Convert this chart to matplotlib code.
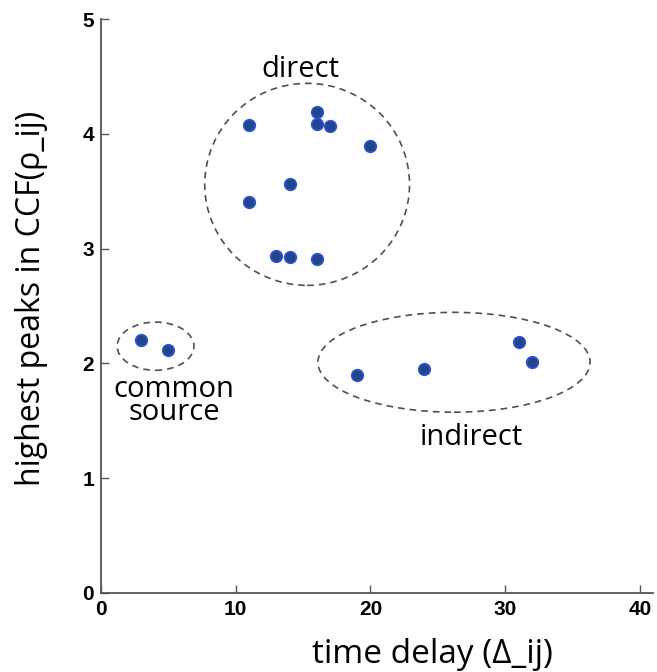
import matplotlib.pyplot as plt
from matplotlib.patches import Ellipse

# data
common_x = [3, 5]
common_y = [2.20, 2.12]
direct_x = [11, 16, 16, 17, 20, 14, 11, 13, 14, 16]
direct_y = [4.08, 4.19, 4.09, 4.07, 3.89, 3.56, 3.41, 2.94, 2.93, 2.91]
indirect_x = [19, 24, 31, 32]
indirect_y = [1.90, 1.95, 2.19, 2.01]

x_ticks = [0, 10, 20, 30, 40]
y_ticks = [0, 1, 2, 3, 4, 5]

# group outlines: (centre x, centre y, width, height)
groups = {
    'direct': (15.3, 3.56, 15.2, 1.76),
    'common': (4.05, 2.15, 5.7, 0.42),
    'indirect': (26.2, 2.01, 20.2, 0.87),
}

fig = plt.figure(figsize=(6.57, 6.72), dpi=100)
ax = fig.add_axes([0.1537, 0.1176, 0.840, 0.854])

xs = common_x + direct_x + indirect_x
ys = common_y + direct_y + indirect_y
ax.scatter(xs, ys, s=70, facecolor='#22458c', edgecolor='#2c54d4',
           linewidth=1.2, zorder=3)

for cx, cy, w, h in groups.values():
    ax.add_patch(Ellipse((cx, cy), w, h, fill=False, linestyle=(0, (4, 3)),
                         edgecolor='#505050', linewidth=1.2))

lab = dict(family='Open Sans', fontsize=21, color='black', ha='center', va='baseline')
ax.text(14.77, 4.495, 'direct', **lab)
# two lines in one text, baseline of the last line
ax.text(5.42, 1.507, 'common\nsource', linespacing=0.72, multialignment='center', **lab)
ax.text(27.46, 1.29, 'indirect', **lab)

ax.set_xlim(0, 40.96)
ax.set_ylim(0, 5)
ax.set_xticks(x_ticks)
ax.set_yticks(y_ticks)
for s in ['top', 'right']:
    ax.spines[s].set_visible(False)
for s in ['left', 'bottom']:
    ax.spines[s].set_color('#555555')
    ax.spines[s].set_linewidth(1.3)
ax.tick_params(direction='in', length=6, width=1, color='#555555',
               labelsize=15, pad=5)
for t in ax.get_xticklabels() + ax.get_yticklabels():
    t.set_fontweight('bold')
    t.set_family('Liberation Sans')

fig.text(0.6575, 0.0134, 'time delay (\u0394_ij)', family='Open Sans',
         fontsize=24, ha='center', va='baseline')
fig.text(0.0487, 0.5565, 'highest peaks in CCF(\u03c1_ij)', family='Open Sans',
         fontsize=23, ha='center', va='center', rotation=90)

fig.savefig('out.png', dpi=100)
